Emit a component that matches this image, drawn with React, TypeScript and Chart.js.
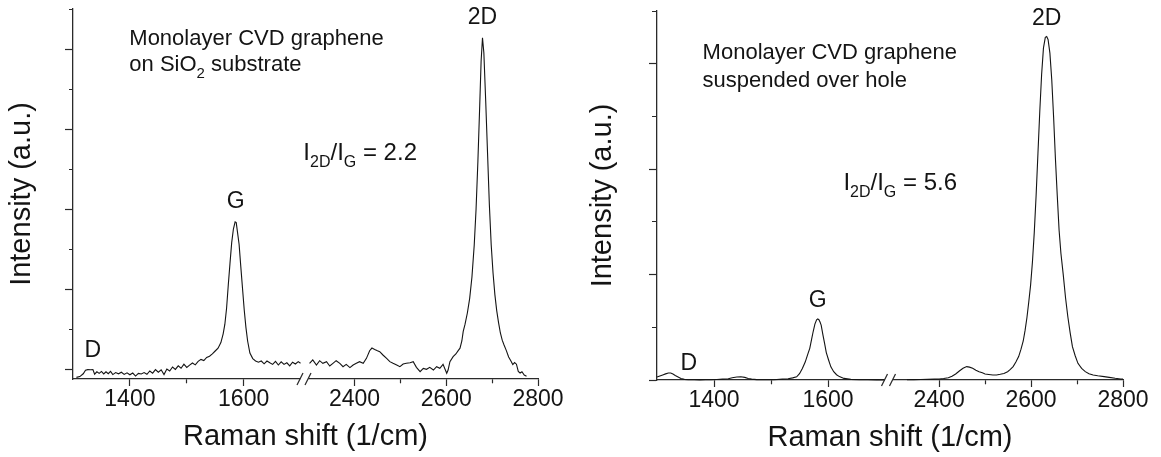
import React, { useEffect, useRef } from 'react';
import { Chart, registerables } from 'chart.js';

Chart.register(...registerables);

const FONT_FAMILY = '"Liberation Sans", Arial, Helvetica, sans-serif';
const INK = '#141414';
const AXIS = '#2a2a2a';

// ---------- Left panel: monolayer CVD graphene on SiO2 ----------
const leftLowShift = [
  1306, 1312, 1318, 1322, 1326, 1331, 1335, 1338, 1342, 1346, 1350, 1354, 1358, 1362, 1366, 1370,
  1375, 1380, 1385, 1390, 1395, 1400, 1405, 1410, 1415, 1420, 1425, 1430, 1435, 1440, 1445, 1450,
  1455, 1460, 1465, 1470, 1475, 1480, 1485, 1490, 1495, 1500, 1505, 1510, 1515, 1520, 1525, 1530,
  1535, 1540, 1545, 1550, 1555, 1560, 1564, 1567, 1570, 1573, 1576, 1579, 1582, 1585, 1587, 1589,
  1592, 1595, 1598, 1601, 1604, 1607, 1611, 1616, 1621, 1626, 1631, 1636, 1641, 1646, 1651, 1656,
  1661, 1666, 1671, 1676, 1681, 1686, 1691, 1696, 1700,
];
const leftLowIntensity = [
  -105, -95, -60, -15, -8, -10, -8, -65, -35, -55, -30, -62, -35, -58, -30, -70,
  -45, -60, -40, -68, -48, -72, -50, -88, -55, -62, -45, -66, -25, -52, -8, -40,
  -10, -70, 0, -25, 25, -5, 40, 10, 60, 20, 48, 75, 52, 95, 120, 105,
  145, 160, 190, 225, 260, 330, 440, 560, 760, 1050, 1320, 1580, 1750, 1840, 1830, 1720,
  1560, 1280, 1010, 740, 520, 350, 200, 130, 100, 85, 100, 65, 100, 78, 58, 95,
  50, 90, 58, 78, 40, 85, 62, 92, 72,
];
const leftHighShift = [
  2302, 2309, 2317, 2324, 2331, 2339, 2346, 2353, 2360, 2368, 2375, 2382, 2390, 2397, 2404, 2411,
  2419, 2426, 2433, 2438, 2444, 2450, 2455, 2462, 2470, 2477, 2484, 2492, 2499, 2506, 2513, 2521,
  2528, 2535, 2543, 2550, 2557, 2564, 2572, 2579, 2586, 2593, 2601, 2604, 2608, 2615, 2621, 2626,
  2630, 2634, 2637, 2641, 2646, 2651, 2656, 2661, 2665, 2669, 2673, 2676, 2679, 2682, 2686, 2690,
  2694, 2698, 2702, 2706, 2710, 2714, 2718, 2722, 2726, 2731, 2736, 2741, 2745, 2749, 2753, 2757,
  2761, 2765, 2770, 2775,
];
const leftHighIntensity = [
  71, 113, 50, 104, 71, 92, 38, 71, 104, 71, 29, 58, 17, 50, 71, 92,
  71, 133, 229, 262, 245, 229, 217, 175, 133, 92, 71, 50, 29, 63, 71, 79,
  92, 21, -33, 8, -4, 21, -13, 29, 8, 58, -54, -13, 92, 154, 188, 230,
  260, 350, 470, 560, 700, 880, 1150, 1550, 2000, 2600, 3300, 3850, 4140, 3950, 3350, 2700,
  2050, 1550, 1200, 930, 730, 580, 450, 360, 300, 230, 150, 100, 55, 80, 60, -30,
  -50, -35, -75, -90,
];

// ---------- Right panel: monolayer CVD graphene suspended over hole ----------
const rightLowShift = [
  1300, 1305, 1310, 1315, 1320, 1324, 1328, 1332, 1337, 1342, 1348, 1355, 1365, 1375, 1385, 1395,
  1405, 1415, 1425, 1432, 1440, 1447, 1454, 1460, 1466, 1475, 1490, 1505, 1520, 1530, 1538, 1545,
  1550, 1555, 1560, 1565, 1568, 1571, 1574, 1577, 1580, 1582, 1584, 1586, 1588, 1591, 1594, 1597,
  1601, 1605, 1610, 1615, 1620, 1628, 1640, 1655, 1670, 1685, 1700,
];
const rightLowIntensity = [
  28, 38, 48, 58, 66, 66, 56, 42, 28, 14, 6, 3, 2, 1, 2, 3,
  5, 8, 12, 22, 28, 31, 25, 15, 8, 4, 2, 3, 8, 12, 20, 30,
  60, 110, 170, 253, 300, 380, 460, 530, 570, 580, 572, 550, 520, 430, 348, 260,
  190, 125, 79, 50, 32, 15, 6, 3, 2, 1, 0,
];
const rightHighShift = [
  2330, 2345, 2360, 2375, 2390, 2400, 2410, 2420, 2428, 2436, 2444, 2452, 2460, 2466, 2473, 2480,
  2487, 2494, 2500, 2508, 2517, 2525, 2533, 2541, 2549, 2555, 2561, 2567, 2573, 2578, 2583, 2587,
  2591, 2595, 2599, 2603, 2607, 2611, 2615, 2619, 2623, 2627, 2631, 2634, 2637, 2641, 2645, 2649,
  2653, 2657, 2661, 2665, 2670, 2675, 2680, 2685, 2690, 2696, 2702, 2710, 2718, 2726, 2735, 2745,
  2759, 2770, 2783, 2795, 2800,
];
const rightHighIntensity = [
  3, 4, 5, 6, 8, 10, 14, 22, 35, 57, 85, 111, 127, 122, 111, 92,
  79, 68, 57, 52, 47, 48, 54, 62, 79, 100, 127, 170, 222, 290, 370, 470,
  590, 740, 900, 1120, 1400, 1750, 2150, 2550, 2900, 3150, 3250, 3257, 3230, 3100, 2850, 2500,
  2100, 1750, 1420, 1200, 1000, 780, 600, 450, 316, 230, 158, 110, 79, 60, 47, 40,
  32, 25, 16, 10, 8,
];

// ---------- Ticks and axis text ----------
const xLowTicks = [1300, 1400, 1500, 1600, 1700];
const xHighTicks = [2300, 2400, 2500, 2600, 2700, 2800];
const xTickLabels = [1400, 1600, 2400, 2600, 2800];
const hiddenXTicks = [1300, 1700, 2300];
const leftYTicks = [0, 500, 1000, 1500, 2000, 2500, 3000, 3500, 4000, 4500];
const rightYTicks = [0, 500, 1000, 1500, 2000, 2500, 3000, 3500];
const xTitle = 'Raman shift (1/cm)';
const yTitle = 'Intensity (a.u.)';

type Run = { text: string; sub?: boolean };
type Note = { axis: 'xLow' | 'xHigh'; x: number; y: number; align: 'left' | 'center'; size: number; runs: Run[] };

const leftNotes: Note[] = [
  { axis: 'xLow', x: 1399, y: 4050, align: 'left', size: 22, runs: [{ text: 'Monolayer CVD graphene' }] },
  { axis: 'xLow', x: 1399, y: 3725, align: 'left', size: 22, runs: [{ text: 'on SiO' }, { text: '2', sub: true }, { text: ' substrate' }] },
  { axis: 'xLow', x: 1705, y: 2612, align: 'left', size: 24, runs: [{ text: 'I' }, { text: '2D', sub: true }, { text: '/I' }, { text: 'G', sub: true }, { text: ' = 2.2' }] },
  { axis: 'xLow', x: 1586, y: 2012, align: 'center', size: 23, runs: [{ text: 'G' }] },
  { axis: 'xHigh', x: 2679, y: 4312, align: 'center', size: 23, runs: [{ text: '2D' }] },
  { axis: 'xLow', x: 1335, y: 150, align: 'center', size: 23, runs: [{ text: 'D' }] },
];
const rightNotes: Note[] = [
  { axis: 'xLow', x: 1380, y: 3045, align: 'left', size: 22, runs: [{ text: 'Monolayer CVD graphene' }] },
  { axis: 'xLow', x: 1380, y: 2779, align: 'left', size: 22, runs: [{ text: 'suspended over hole' }] },
  { axis: 'xLow', x: 1627, y: 1802, align: 'left', size: 24, runs: [{ text: 'I' }, { text: '2D', sub: true }, { text: '/I' }, { text: 'G', sub: true }, { text: ' = 5.6' }] },
  { axis: 'xLow', x: 1582, y: 692, align: 'center', size: 23, runs: [{ text: 'G' }] },
  { axis: 'xHigh', x: 2634, y: 3367, align: 'center', size: 23, runs: [{ text: '2D' }] },
  { axis: 'xLow', x: 1356, y: 95, align: 'center', size: 23, runs: [{ text: 'D' }] },
];

function makeNotesPlugin(notes: Note[]) {
  return {
    id: 'notes',
    afterDraw(chart: any) {
      const ctx = chart.ctx as CanvasRenderingContext2D;
      const yScale = chart.scales.y;
      ctx.save();
      ctx.fillStyle = INK;
      ctx.textBaseline = 'alphabetic';
      ctx.textAlign = 'left';
      for (const n of notes) {
        const px = chart.scales[n.axis].getPixelForValue(n.x);
        const py = yScale.getPixelForValue(n.y);
        const subSize = Math.round(n.size * 0.68);
        const widths = n.runs.map((r) => {
          ctx.font = `${r.sub ? subSize : n.size}px ${FONT_FAMILY}`;
          return ctx.measureText(r.text).width;
        });
        const total = widths.reduce((a, b) => a + b, 0);
        let x = n.align === 'center' ? px - total / 2 : px;
        n.runs.forEach((r, i) => {
          ctx.font = `${r.sub ? subSize : n.size}px ${FONT_FAMILY}`;
          ctx.fillText(r.text, x, r.sub ? py + n.size * 0.3 : py);
          x += widths[i];
        });
      }
      ctx.restore();
    },
  };
}

const breakPlugin = {
  id: 'axisBreak',
  afterDraw(chart: any) {
    const low = chart.scales.xLow;
    const ctx = chart.ctx as CanvasRenderingContext2D;
    const bx = low.right;
    const y = low.top;
    ctx.save();
    ctx.fillStyle = '#ffffff';
    ctx.fillRect(bx - 4, y - 2, 8, 4);
    ctx.strokeStyle = AXIS;
    ctx.lineWidth = 1.2;
    for (const off of [-4.5, 3.5]) {
      ctx.beginPath();
      ctx.moveTo(bx + off - 3, y + 6);
      ctx.lineTo(bx + off + 3, y - 6);
      ctx.stroke();
    }
    ctx.restore();
  },
};

type PanelSpec = {
  lowShift: number[];
  lowIntensity: number[];
  highShift: number[];
  highIntensity: number[];
  yMin: number;
  yMax: number;
  yTicks: number[];
  yMajor: number;
  yMinorLen: number;
  padding: { left: number; right: number; top: number; bottom: number };
  yTitlePad: { top: number; bottom: number };
  notes: Note[];
};

function pairs(xs: number[], ys: number[]) {
  return xs.map((x, i) => ({ x, y: ys[i] }));
}

function isMinor(value: number, major: number) {
  return Math.round(value) % major !== 0;
}

function buildConfig(p: PanelSpec): any {
  const lineStyle = {
    borderColor: INK,
    borderWidth: 1.1,
    pointRadius: 0,
    tension: 0,
    fill: false,
    clip: false,
    yAxisID: 'y',
  };
  const xCommon = (min: number, max: number, weight: number, tickValues: number[]) => ({
    type: 'linear',
    axis: 'x',
    position: 'bottom',
    stack: 'xs',
    stackWeight: weight,
    min,
    max,
    afterBuildTicks: (scale: any) => {
      scale.ticks = tickValues.map((value) => ({ value }));
    },
    ticks: {
      autoSkip: false,
      maxRotation: 0,
      padding: 0,
      color: INK,
      font: { family: FONT_FAMILY, size: 23 },
      callback: (v: number) => (xTickLabels.includes(Math.round(v)) ? String(Math.round(v)) : ''),
    },
    grid: {
      display: true,
      drawOnChartArea: false,
      drawTicks: true,
      tickLength: 7,
      tickWidth: 1.2,
      tickColor: (c: any) => (c.tick && hiddenXTicks.includes(Math.round(c.tick.value)) ? 'rgba(0,0,0,0)' : AXIS),
      tickBorderDash: (c: any) => (c.tick && isMinor(c.tick.value, 200) ? [4, 100] : []),
    },
    border: { display: true, color: AXIS, width: 1.3 },
  });
  return {
    type: 'line',
    data: {
      datasets: [
        { ...lineStyle, data: pairs(p.lowShift, p.lowIntensity), xAxisID: 'xLow' },
        { ...lineStyle, data: pairs(p.highShift, p.highIntensity), xAxisID: 'xHigh' },
      ],
    },
    options: {
      animation: false,
      responsive: false,
      maintainAspectRatio: false,
      devicePixelRatio: 1,
      events: [],
      layout: { padding: p.padding },
      plugins: {
        legend: { display: false },
        tooltip: { enabled: false },
        title: {
          display: true,
          text: xTitle,
          position: 'bottom',
          fullSize: false,
          align: 'center',
          color: INK,
          font: { family: FONT_FAMILY, size: 29, weight: 'normal' },
          padding: { top: 6, bottom: 0 },
        },
      },
      scales: {
        xLow: xCommon(1300, 1707, 232, xLowTicks),
        xHigh: xCommon(2291, 2800, 234, xHighTicks),
        y: {
          type: 'linear',
          axis: 'y',
          position: 'left',
          min: p.yMin,
          max: p.yMax,
          afterBuildTicks: (scale: any) => {
            scale.ticks = p.yTicks.map((value) => ({ value }));
          },
          ticks: { display: false },
          grid: {
            display: true,
            drawOnChartArea: false,
            drawTicks: true,
            tickLength: 8,
            tickWidth: 1.2,
            tickColor: AXIS,
            tickBorderDash: (c: any) =>
              c.tick && isMinor(c.tick.value, p.yMajor) ? [0, 8 - p.yMinorLen, p.yMinorLen, 100] : [],
          },
          border: { display: true, color: AXIS, width: 1.3 },
          title: {
            display: true,
            text: yTitle,
            color: INK,
            font: { family: FONT_FAMILY, size: 29, weight: 'normal' },
            padding: p.yTitlePad,
          },
        },
      },
    },
    plugins: [makeNotesPlugin(p.notes), breakPlugin],
  };
}

const leftSpec: PanelSpec = {
  lowShift: leftLowShift,
  lowIntensity: leftLowIntensity,
  highShift: leftHighShift,
  highIntensity: leftHighIntensity,
  yMin: -125,
  yMax: 4500,
  yTicks: leftYTicks,
  yMajor: 1000,
  yMinorLen: 4,
  padding: { left: 0, right: 42, top: 9, bottom: 2.6 },
  yTitlePad: { top: 4.6, bottom: 25.6 },
  notes: leftNotes,
};

const rightSpec: PanelSpec = {
  lowShift: rightLowShift,
  lowIntensity: rightLowIntensity,
  highShift: rightHighShift,
  highIntensity: rightHighIntensity,
  yMin: 0,
  yMax: 3500,
  yTicks: rightYTicks,
  yMajor: 1000,
  yMinorLen: 5,
  padding: { left: 0, right: 38, top: 11, bottom: 1.6 },
  yTitlePad: { top: 5.6, bottom: 28.6 },
  notes: rightNotes,
};

function Panel({ spec, left, width }: { spec: PanelSpec; left: number; width: number }) {
  const ref = useRef<HTMLCanvasElement | null>(null);
  useEffect(() => {
    if (!ref.current) return;
    const chart = new Chart(ref.current, buildConfig(spec));
    return () => chart.destroy();
  }, [spec]);
  return (
    <canvas
      ref={ref}
      width={width}
      height={457}
      style={{ position: 'absolute', left, top: 0, width, height: 457, display: 'block' }}
    />
  );
}

export default function App() {
  return (
    <div style={{ position: 'absolute', left: 0, top: 0, width: 1161, height: 457, background: '#ffffff', overflow: 'hidden' }}>
      <Panel spec={leftSpec} left={0} width={580} />
      <Panel spec={rightSpec} left={580} width={581} />
    </div>
  );
}
